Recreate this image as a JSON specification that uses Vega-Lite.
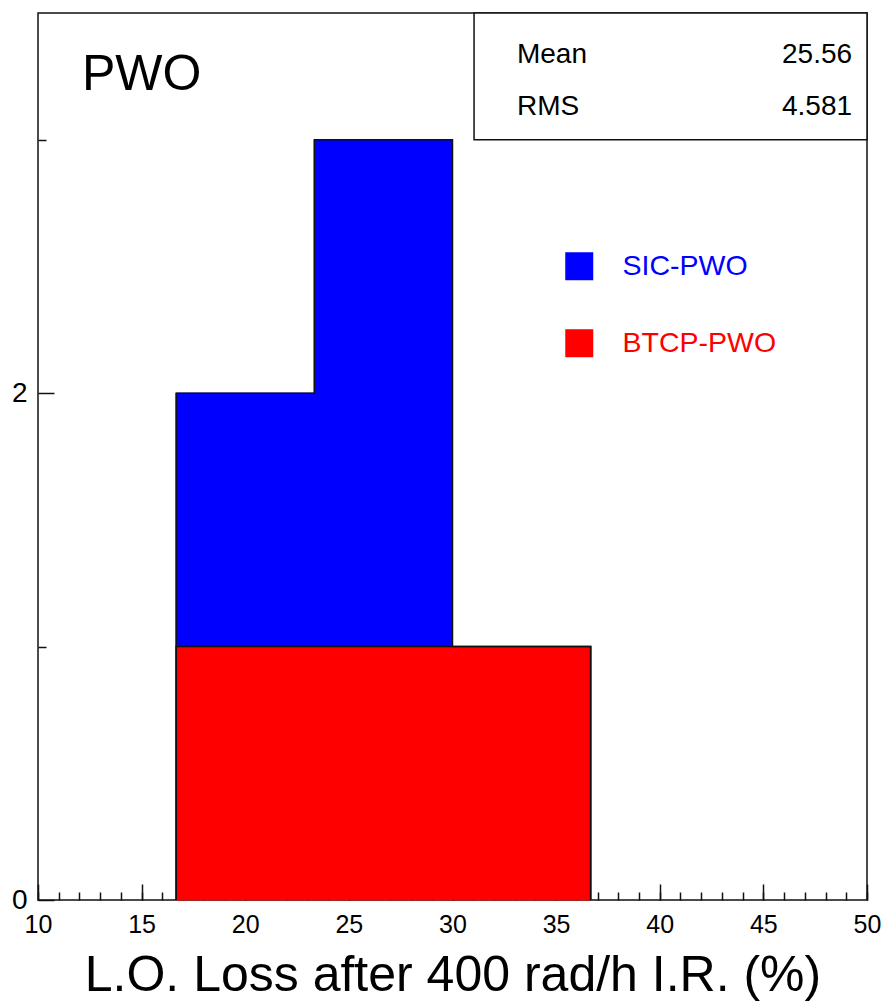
{
  "$schema": "https://vega.github.io/schema/vega-lite/v6.json",
  "width": 829,
  "height": 887,
  "autosize": {"type": "none"},
  "padding": {"left": 38, "top": 13, "right": 20, "bottom": 105},
  "background": "white",
  "config": {
    "font": "Liberation Sans",
    "view": {"stroke": "#111", "strokeWidth": 1.5},
    "axis": {"domain": false, "grid": false, "tickColor": "#111", "tickWidth": 1.5, "labelColor": "#000", "labelFont": "Liberation Sans", "titleFont": "Liberation Sans", "titleColor": "#000", "titleFontWeight": "normal"}
  },
  "layer": [
    {
      "data": {"values": [
        {"lo": 16.667, "hi": 23.333, "series": "BTCP-PWO", "count": 1},
        {"lo": 23.333, "hi": 30.0, "series": "BTCP-PWO", "count": 1},
        {"lo": 30.0, "hi": 36.667, "series": "BTCP-PWO", "count": 1},
        {"lo": 16.667, "hi": 23.333, "series": "SIC-PWO", "count": 1},
        {"lo": 23.333, "hi": 30.0, "series": "SIC-PWO", "count": 2}
      ]},
      "transform": [{"stack": "count", "groupby": ["lo"], "sort": [{"field": "series", "order": "ascending"}], "as": ["c0", "c1"]}],
      "mark": {"type": "rect", "strokeWidth": 1},
      "encoding": {
        "x": {"field": "lo", "type": "quantitative", "scale": {"domain": [10, 50], "nice": false, "zero": false},
          "axis": {"orient": "bottom", "values": [10, 15, 20, 25, 30, 35, 40, 45, 50], "tickSize": -16, "labelFontSize": 25, "labelPadding": 28, "labelFlush": false, "labelOverlap": false, "format": "d",
            "title": "L.O. Loss after 400 rad/h I.R. (%)", "titleFontSize": 50, "titlePadding": 13}},
        "x2": {"field": "hi"},
        "y": {"field": "c0", "type": "quantitative", "scale": {"domain": [0, 3.5], "nice": false, "zero": true},
          "axis": {"orient": "left", "values": [0, 2], "tickSize": -16, "labelFontSize": 28, "labelPadding": 27, "format": "d", "title": null}},
        "y2": {"field": "c1"},
        "color": {"field": "series", "type": "nominal",
          "scale": {"domain": ["SIC-PWO", "BTCP-PWO"], "range": ["#0000ff", "#ff0000"]},
          "legend": {"orient": "none", "legendX": 527, "legendY": 239, "title": null, "symbolType": "square", "symbolSize": 784, "symbolStrokeWidth": 0, "labelFontSize": 28.5, "labelFont": "Liberation Sans", "labelOffset": 29, "rowPadding": 48, "padding": 0,
            "encode": {"labels": {"update": {"fill": {"scale": "color", "field": "value"}}}}}},
        "stroke": {"field": "series", "type": "nominal",
          "scale": {"domain": ["SIC-PWO", "BTCP-PWO"], "range": ["#0000ff", "#ff0000"]}, "legend": null}
      }
    },
    {
      "data": {"values": [
        {"shape": "total", "i": 0, "x": 16.667, "y": 0},
        {"shape": "total", "i": 1, "x": 16.667, "y": 2},
        {"shape": "total", "i": 2, "x": 23.333, "y": 3},
        {"shape": "total", "i": 3, "x": 30.0, "y": 1},
        {"shape": "total", "i": 4, "x": 36.667, "y": 0},
        {"shape": "red", "i": 0, "x": 16.667, "y": 0},
        {"shape": "red", "i": 1, "x": 16.667, "y": 1},
        {"shape": "red", "i": 2, "x": 36.667, "y": 0}
      ]},
      "mark": {"type": "line", "interpolate": "step-after", "color": "#111", "strokeWidth": 1.5},
      "encoding": {
        "x": {"field": "x", "type": "quantitative",
          "axis": {"orient": "bottom", "values": [10,11,12,13,14,15,16,17,18,19,20,21,22,23,24,25,26,27,28,29,30,31,32,33,34,35,36,37,38,39,40,41,42,43,44,45,46,47,48,49,50], "tickSize": -8, "labels": false, "title": null}},
        "y": {"field": "y", "type": "quantitative",
          "axis": {"orient": "left", "values": [1, 3], "tickSize": -8, "labels": false, "title": null}},
        "detail": {"field": "shape"},
        "order": {"field": "i"}
      }
    },
    {
      "data": {"values": [{}]},
      "mark": {"type": "rect", "fill": "white", "stroke": "#111", "strokeWidth": 1.5},
      "encoding": {
        "x": {"datum": 31.04, "type": "quantitative", "axis": null},
        "x2": {"datum": 50},
        "y": {"datum": 3.0, "type": "quantitative", "axis": null},
        "y2": {"datum": 3.5}
      }
    },
    {
      "data": {"values": [{"label": "PWO"}]},
      "mark": {"type": "text", "align": "left", "baseline": "alphabetic", "fontSize": 50, "color": "#000"},
      "encoding": {
        "x": {"datum": 12.12, "type": "quantitative", "axis": null},
        "y": {"datum": 3.197, "type": "quantitative", "axis": null},
        "text": {"field": "label"}
      }
    },
    {
      "data": {"values": [{"label": "Mean", "value": "25.56"}]},
      "layer": [
        {"mark": {"type": "text", "align": "left", "baseline": "alphabetic", "fontSize": 28, "color": "#000"},
         "encoding": {"x": {"datum": 33.11, "type": "quantitative", "axis": null}, "y": {"datum": 3.302, "type": "quantitative", "axis": null}, "text": {"field": "label"}}},
        {"mark": {"type": "text", "align": "right", "baseline": "alphabetic", "fontSize": 28, "color": "#000"},
         "encoding": {"x": {"datum": 49.28, "type": "quantitative", "axis": null}, "y": {"datum": 3.302, "type": "quantitative", "axis": null}, "text": {"field": "value"}}}
      ]
    },
    {
      "data": {"values": [{"label": "RMS", "value": "4.581"}]},
      "layer": [
        {"mark": {"type": "text", "align": "left", "baseline": "alphabetic", "fontSize": 28, "color": "#000"},
         "encoding": {"x": {"datum": 33.11, "type": "quantitative", "axis": null}, "y": {"datum": 3.097, "type": "quantitative", "axis": null}, "text": {"field": "label"}}},
        {"mark": {"type": "text", "align": "right", "baseline": "alphabetic", "fontSize": 28, "color": "#000"},
         "encoding": {"x": {"datum": 49.28, "type": "quantitative", "axis": null}, "y": {"datum": 3.097, "type": "quantitative", "axis": null}, "text": {"field": "value"}}}
      ]
    }
  ],
  "resolve": {"axis": {"x": "independent", "y": "independent"}}
}
